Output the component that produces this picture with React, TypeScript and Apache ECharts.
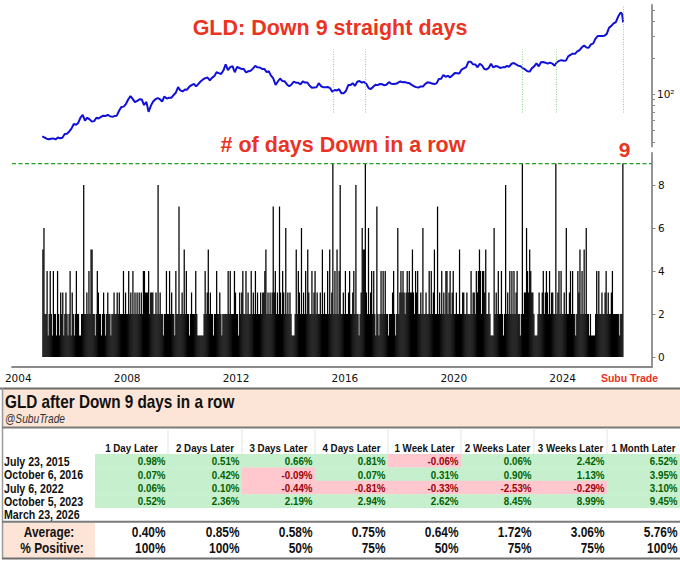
import React, { useEffect, useRef } from 'react';
import * as echarts from 'echarts';

// ---------------- Data ----------------
// Dates when GLD had 9 straight down days (dotted markers, table rows)
const eventDates = ['2015-07-23', '2016-10-06', '2022-07-06', '2023-10-05', '2026-03-23'];
const eventLabels = ['July 23, 2015', 'October 6, 2016', 'July 6, 2022', 'October 5, 2023', 'March 23, 2026'];
const eventLineLow = [70, 70, 70, 70, 70];
const eventLineHigh = [234, 234, 234, 234, 540];
const streakRecord = 9;

// GLD price (approximate mid-month levels)
const priceStart: [string, number][] = [['2004-11-18', 44.4], ['2004-12-15', 43.6]];
const priceFirstFullYear = 2005;
const monthlyPriceByYear: number[][] = [
  [42.5, 42.0, 42.5, 42.7, 41.9, 43.5, 42.8, 43.3, 46.5, 46.8, 48.8, 51.5],
  [56.5, 55.5, 57.5, 63.5, 67.0, 60.0, 63.5, 61.5, 59.0, 59.5, 63.5, 62.5],
  [64.5, 66.0, 65.5, 67.0, 65.5, 64.5, 65.5, 66.0, 72.5, 78.0, 78.5, 82.5],
  [90.0, 96.0, 91.0, 85.5, 87.5, 90.5, 90.0, 81.0, 86.0, 71.0, 80.0, 86.5],
  [90.5, 92.5, 90.5, 86.5, 95.5, 91.5, 93.0, 93.0, 98.0, 102.5, 114.0, 107.0],
  [105.0, 109.0, 108.5, 115.0, 118.5, 121.5, 115.5, 121.5, 127.5, 132.0, 135.5, 137.0],
  [129.5, 137.0, 140.5, 151.5, 149.0, 146.5, 156.5, 176.0, 158.0, 167.0, 170.5, 151.5],
  [168.0, 164.5, 161.5, 161.0, 151.0, 154.5, 156.0, 162.5, 171.0, 166.5, 166.0, 161.5],
  [161.5, 152.0, 154.5, 142.0, 134.5, 119.0, 127.0, 134.5, 128.0, 127.5, 120.0, 116.0],
  [120.0, 127.0, 124.0, 124.0, 120.0, 127.5, 124.5, 124.5, 117.0, 112.5, 113.0, 113.5],
  [123.0, 116.0, 114.0, 113.5, 114.5, 112.0, 104.5, 108.0, 107.0, 109.5, 101.5, 101.5],
  [106.0, 118.5, 118.5, 123.0, 116.5, 126.5, 128.0, 124.5, 126.0, 121.0, 111.5, 110.0],
  [115.0, 119.5, 118.5, 121.0, 120.5, 118.0, 120.0, 125.5, 121.5, 121.0, 121.5, 124.0],
  [127.0, 125.0, 125.5, 124.0, 123.0, 119.0, 116.0, 114.0, 113.0, 115.5, 115.5, 121.5],
  [125.0, 124.0, 122.0, 121.0, 122.5, 133.0, 134.0, 144.0, 139.0, 141.5, 137.5, 143.0],
  [149.5, 149.0, 148.0, 159.5, 163.5, 167.0, 185.0, 185.5, 176.5, 176.0, 166.5, 178.5],
  [172.5, 161.0, 160.0, 165.0, 178.0, 166.0, 170.5, 169.0, 164.5, 166.5, 166.5, 171.0],
  [168.5, 178.5, 181.0, 176.0, 172.0, 170.0, 164.5, 160.0, 154.5, 153.5, 164.0, 169.5],
  [179.5, 169.5, 183.5, 184.5, 182.0, 178.5, 182.5, 179.0, 171.5, 183.5, 188.5, 191.0],
  [189.0, 189.5, 205.5, 211.5, 216.5, 215.5, 226.0, 231.0, 244.5, 252.5, 243.5, 242.5],
  [258.5, 263.5, 287.5, 303.0, 303.0, 304.0, 304.5, 316.0, 355.5, 368.0, 386.0, 396.0],
];
const priceEnd: [string, number][] = [['2026-01-15', 440], ['2026-02-18', 476], ['2026-03-09', 461], ['2026-03-23', 393]];

// Max "days down in a row" per fortnight (26 bins a year, '-' = no data)
const streakFirstYear = 2004;
const fortnightlyMaxStreak = [
  '-----------------------562',
  '24124214221421323123212413',
  '21242211228223242552212432',
  '21232123221223223232224232',
  '24232423232323244333423332',
  '23282322122422423221422722',
  '32524221232224211111124235',
  '23221224223212222242422243',
  '22132342242322423242322323',
  '34523232373423273243262323',
  '21112524326232425322423423',
  '22325232242523924252482232',
  '42234223428221236559326234',
  '24217212424242212223421262',
  '34343234343353243422326223',
  '22424235227232423244234234',
  '22322522332232224233243454',
  '24435223211162324224212823',
  '24242423422129233643543321',
  '11232234234324233229234242',
  '23262234242212435242526221',
  '21111242422322342322342222',
  '221229--------------------',
];

const yearTicks = [2004, 2008, 2012, 2016, 2020, 2024];
const streakTicks = [0, 2, 4, 6, 8];
const priceTicks = [40, 50, 60, 70, 80, 90, 100, 200, 300, 400, 500];
const priceLabelTicks = [100];

// Table
const horizons = ['1 Day Later', '2 Days Later', '3 Days Later', '4 Days Later', '1 Week Later', '2 Weeks Later', '3 Weeks Later', '1 Month Later'];
const returns2015 = [0.98, 0.51, 0.66, 0.81, -0.06, 0.06, 2.42, 6.52];
const returns2016 = [0.07, 0.42, -0.09, 0.07, 0.31, 0.90, 1.13, 3.95];
const returns2022 = [0.06, 0.10, -0.44, -0.81, -0.33, -2.53, -0.29, 3.10];
const returns2023 = [0.52, 2.36, 2.19, 2.94, 2.62, 8.45, 8.99, 9.45];
const averageReturns = [0.40, 0.85, 0.58, 0.75, 0.64, 1.72, 3.06, 5.76];
const percentPositive = [100, 100, 50, 75, 50, 75, 75, 100];

// ---------------- Helpers ----------------
const ts = (s: string) => {
  const [y, m, d] = s.split('-').map(Number);
  return new Date(y, m - 1, d || 1).getTime();
};

const RED = '#eb3323';
const GREEN_DASH = '#22a022';
const FONT = '"Liberation Sans", Arial, Helvetica, sans-serif';
const MPL = '"DejaVu Sans", sans-serif';
const SPINE = '#8a8a8a';

function buildOption() {
  const priceData: [number, number][] = [];
  priceStart.forEach(([d, v]) => priceData.push([ts(d), v]));
  monthlyPriceByYear.forEach((arr, i) => {
    const y = priceFirstFullYear + i;
    arr.forEach((v, m) => priceData.push([new Date(y, m, 15).getTime(), v]));
  });
  priceEnd.forEach(([d, v]) => priceData.push([ts(d), v]));

  const streakData: [number, number][] = [];
  fortnightlyMaxStreak.forEach((row, i) => {
    const y = streakFirstYear + i;
    const t0 = new Date(y, 0, 1).getTime();
    const len = new Date(y + 1, 0, 1).getTime() - t0;
    for (let b = 0; b < row.length; b++) {
      const ch = row[b];
      if (ch === '-') continue;
      streakData.push([t0 + ((b + 0.5) / 26) * len, Number(ch)]);
    }
  });

  const xMin = new Date(2003, 9, 9).getTime();
  const xMax = new Date(2027, 3, 14).getTime();

  // ---- graphic (titles + table) ----
  const els: any[] = [];
  const txt = (x: number, y: number, text: string, o: any = {}) => {
    const align = o.align || 'left';
    els.push({
      type: 'text',
      x,
      y,
      scaleX: o.scaleX || 1,
      silent: true,
      z: 50,
      style: {
        text,
        fill: o.fill || '#111',
        fontSize: o.fontSize || 12,
        fontWeight: o.fontWeight || 'bold',
        fontStyle: o.fontStyle || 'normal',
        fontFamily: o.fontFamily || FONT,
        align,
        textAlign: align,
        verticalAlign: 'middle',
        textVerticalAlign: 'middle',
      },
    });
  };
  const rect = (x: number, y: number, w: number, h: number, fill: string) =>
    els.push({ type: 'rect', silent: true, z: 40, shape: { x, y, width: w, height: h }, style: { fill } });
  const hline = (x1: number, x2: number, y: number, stroke: string, lw: number) =>
    els.push({ type: 'line', silent: true, z: 45, shape: { x1, y1: y, x2, y2: y }, style: { stroke, lineWidth: lw } });
  const vline = (x: number, y1: number, y2: number, stroke: string, lw: number) =>
    els.push({ type: 'line', silent: true, z: 45, shape: { x1: x, y1, x2: x, y2 }, style: { stroke, lineWidth: lw } });

  // chart titles
  txt(330, 27.5, 'GLD: Down 9 straight days', { fontSize: 21.5, fill: RED, align: 'center' });
  txt(343, 144.7, '# of days Down in a row', { fontSize: 21.5, fill: RED, align: 'center' });
  txt(624.5, 149.5, '9', { fontSize: 21, fill: RED, align: 'center' });
  txt(629.5, 378, 'Subu Trade', { fontSize: 10.5, fill: RED, align: 'center' });

  // table
  const SX = 0.85;
  const cols = [95, 168, 242, 315, 388, 461, 534, 607, 680];
  const peach = '#fce4d6';
  rect(2, 389, 678, 38.5, peach);
  hline(0, 680, 388.5, '#6e6e6e', 2);
  vline(2.5, 388, 559, '#9a9a9a', 1.5);
  txt(5, 402, 'GLD after Down 9 days in a row', { fontSize: 18, scaleX: SX });
  txt(5, 418.5, '@SubuTrade', { fontSize: 12, fontWeight: 'normal', fontStyle: 'italic', fill: '#333', scaleX: SX });
  hline(2, 680, 427.5, '#7a7a7a', 2);
  for (let c = 1; c < cols.length - 1; c++) vline(cols[c], 428.5, 454, '#e3e3e3', 1);
  horizons.forEach((h, c) => txt((cols[c] + cols[c + 1]) / 2, 447.7, h, { fontSize: 11.5, scaleX: SX, align: 'center' }));

  const rows = [returns2015, returns2016, returns2022, returns2023];
  const rowTop = 454;
  const rowH = 13.4;
  rows.forEach((vals, r) => {
    const top = rowTop + r * rowH;
    vals.forEach((v, c) => {
      const pos = v >= 0;
      rect(cols[c], top, cols[c + 1] - cols[c] + (c === 7 ? 0 : 0.5), rowH + 0.4, pos ? '#c6efce' : '#ffc7ce');
      txt(cols[c + 1] - 2.5, top + 6.9, v.toFixed(2) + '%', {
        fontSize: 11.5,
        scaleX: SX,
        align: 'right',
        fill: pos ? '#006100' : '#9c0006',
      });
    });
  });
  eventLabels.forEach((l, r) => txt(4, rowTop + r * rowH + 6.9, l, { fontSize: 12.5, scaleX: SX }));

  hline(2, 680, 521.7, '#7a7a7a', 2);
  rect(2, 522.7, 93, 35.3, peach);
  txt(49, 531.7, 'Average:', { fontSize: 14, scaleX: SX, align: 'center' });
  txt(52, 547.7, '% Positive:', { fontSize: 14, scaleX: SX, align: 'center' });
  averageReturns.forEach((v, c) => txt(cols[c + 1] - 2.5, 531.7, v.toFixed(2) + '%', { fontSize: 14, scaleX: SX, align: 'right' }));
  percentPositive.forEach((v, c) => txt(cols[c + 1] - 2.5, 547.7, v + '%', { fontSize: 14, scaleX: SX, align: 'right' }));
  hline(2, 680, 558.6, '#6e6e6e', 2);

  return {
    animation: false,
    backgroundColor: '#ffffff',
    grid: [
      { left: 12, right: 28, top: 5, height: 141.5, outerBoundsMode: 'none', containLabel: false },
      { left: 12, right: 28, top: 153, height: 214, outerBoundsMode: 'none', containLabel: false },
    ],
    xAxis: [
      { type: 'value', gridIndex: 0, min: xMin, max: xMax, show: false, splitLine: { show: false } },
      {
        type: 'value',
        gridIndex: 1,
        min: xMin,
        max: xMax,
        axisLine: { show: true, onZero: false, lineStyle: { color: SPINE, width: 1.8 } },
        axisTick: { show: false },
        splitLine: { show: false },
        axisLabel: {
          customValues: yearTicks.map((y) => new Date(y, 0, 1).getTime()),
          formatter: (v: number) => String(new Date(v).getFullYear()),
          fontFamily: MPL,
          fontSize: 10.5,
          color: '#111',
          margin: 5,
          hideOverlap: false,
        },
      },
    ],
    yAxis: [
      {
        type: 'log',
        logBase: 10,
        gridIndex: 0,
        position: 'right',
        min: 36.6,
        max: 549,
        axisLine: { show: true, lineStyle: { color: SPINE, width: 1.8 } },
        axisTick: { show: true, customValues: priceTicks, length: 3, lineStyle: { color: SPINE, width: 1 } },
        axisLabel: {
          customValues: priceLabelTicks,
          formatter: (v: number) => (Math.abs(v - 100) < 1 ? '10²' : ''),
          fontFamily: MPL,
          fontSize: 10.5,
          color: '#111',
          margin: 5,
        },
        splitLine: { show: false },
      },
      {
        type: 'value',
        gridIndex: 1,
        position: 'right',
        min: -0.465,
        max: 9.49,
        axisLine: { show: true, onZero: false, lineStyle: { color: SPINE, width: 1.8 } },
        axisTick: { show: true, customValues: streakTicks, length: 3.5, lineStyle: { color: SPINE, width: 1 } },
        axisLabel: { customValues: streakTicks, fontFamily: MPL, fontSize: 10.5, color: '#111', margin: 6 },
        splitLine: { show: false },
      },
    ],
    series: [
      {
        type: 'line',
        xAxisIndex: 0,
        yAxisIndex: 0,
        data: priceData,
        symbol: 'none',
        showSymbol: false,
        silent: true,
        lineStyle: { color: '#1010d8', width: 2 },
        markLine: {
          silent: true,
          symbol: ['none', 'none'],
          label: { show: false },
          lineStyle: { type: [1, 1.5], color: '#8fd08f', width: 1.1 },
          data: eventDates.map((d, i) => [
            { coord: [ts(d), eventLineLow[i]] },
            { coord: [ts(d), eventLineHigh[i]] },
          ]),
        },
      },
      {
        type: 'bar',
        xAxisIndex: 1,
        yAxisIndex: 1,
        data: streakData,
        barWidth: 1.25,
        silent: true,
        itemStyle: { color: '#000000' },
      },
      {
        type: 'line',
        xAxisIndex: 1,
        yAxisIndex: 1,
        data: [[xMin, streakRecord], [xMax, streakRecord]],
        symbol: 'none',
        showSymbol: false,
        silent: true,
        z: 5,
        itemStyle: { color: GREEN_DASH },
        lineStyle: { type: [4, 2.5], color: GREEN_DASH, width: 1.2 },
      },
    ],
    graphic: { elements: els },
  };
}

export default function App() {
  const ref = useRef<HTMLDivElement>(null);
  useEffect(() => {
    if (!ref.current) return;
    const chart = echarts.init(ref.current, undefined, { renderer: 'svg' });
    chart.setOption(buildOption() as any);
    return () => chart.dispose();
  }, []);
  return (
    <div
      ref={ref}
      style={{ position: 'fixed', left: 0, top: 0, width: 680, height: 561, background: '#ffffff' }}
    />
  );
}
